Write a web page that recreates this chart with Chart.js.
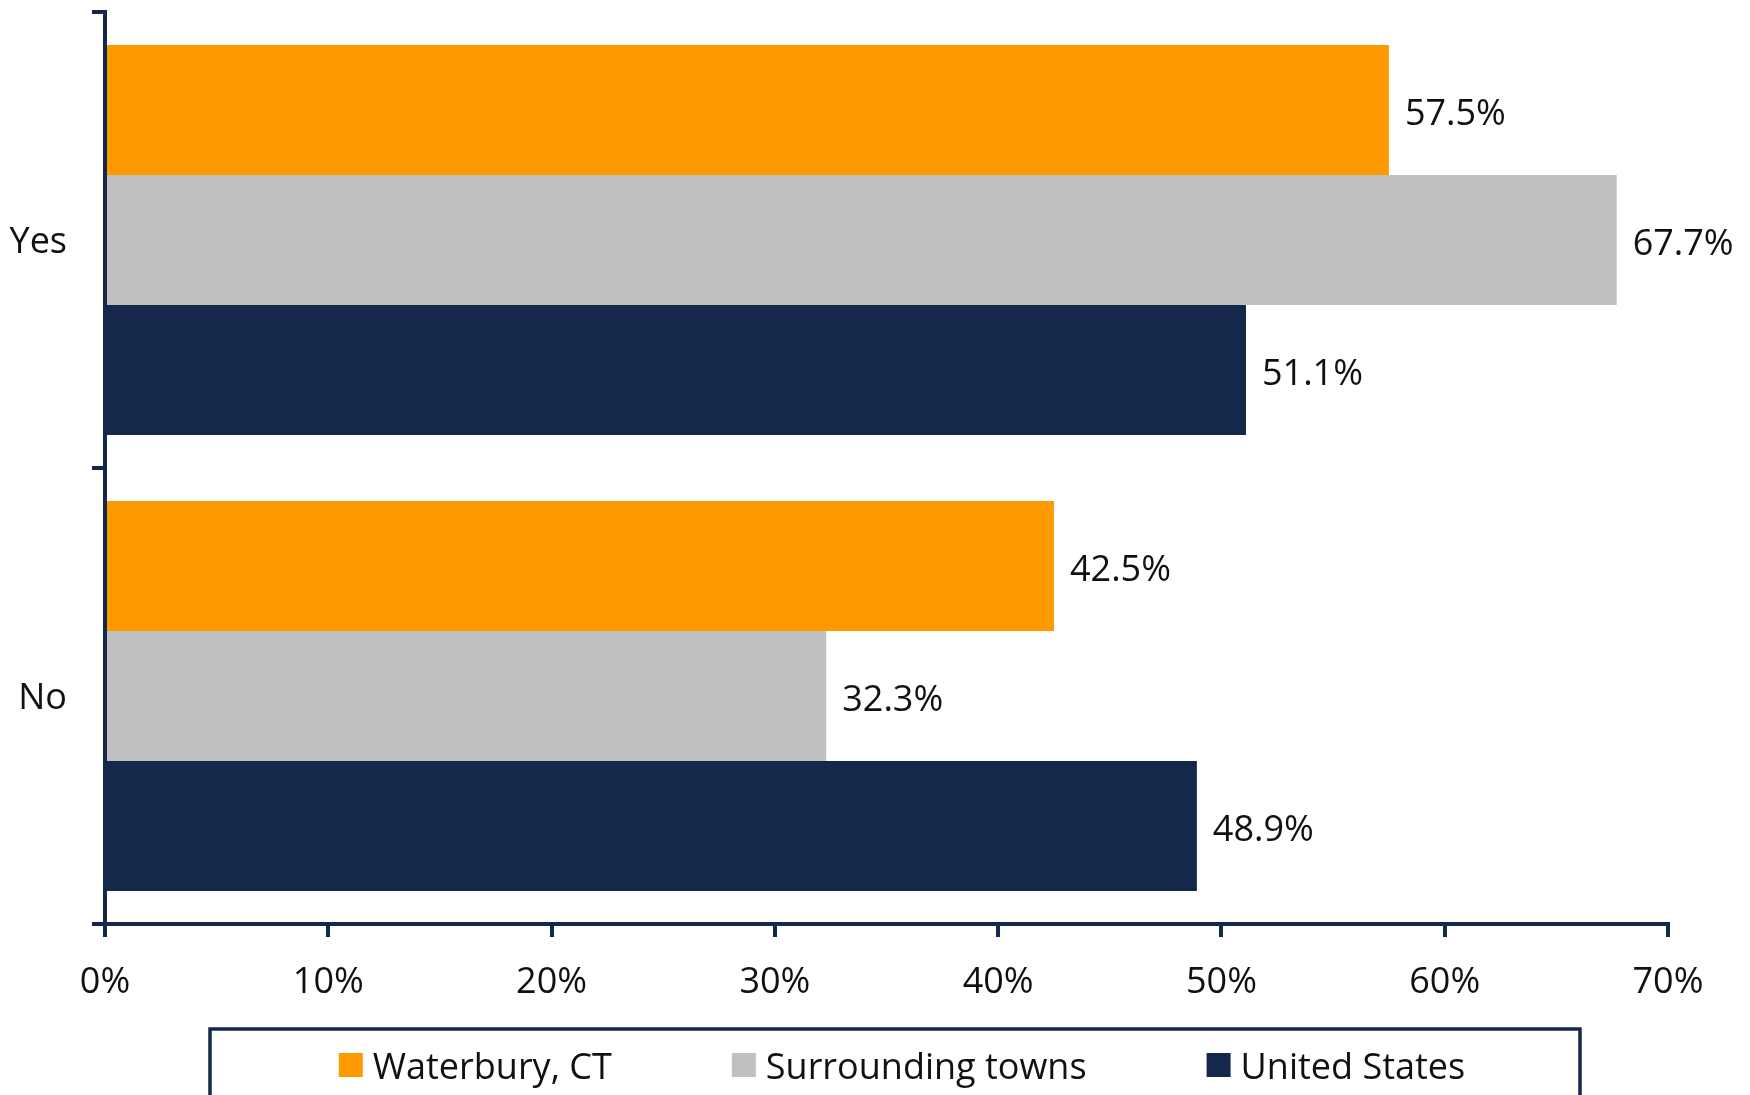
<!DOCTYPE html>
<html>
<head>
<meta charset="utf-8">
<script src="https://cdn.jsdelivr.net/npm/chart.js@4/dist/chart.umd.min.js"></script>
<style>
  html, body { margin: 0; padding: 0; background: #fff; }
  #wrap { width: 1750px; height: 1095px; }
</style>
</head>
<body>
<div id="wrap"><canvas id="myChart" width="1750" height="1095"></canvas></div>
<script>
var categories = ['Yes', 'No'];
var seriesNames = ['Waterbury, CT', 'Surrounding towns', 'United States'];
var waterbury = [57.5, 42.5];
var surrounding = [67.7, 32.3];
var unitedStates = [51.1, 48.9];
var xTicks = [0, 10, 20, 30, 40, 50, 60, 70];

var NAVY = '#13284a';
var FONT = '"Open Sans", "Noto Sans", sans-serif';

// value labels to the right of each bar
var barLabels = {
    id: 'barLabels',
    afterDatasetsDraw: function(chart) {
        var ctx = chart.ctx;
        ctx.save();
        ctx.font = '36px ' + FONT;
        ctx.fillStyle = '#111';
        ctx.textBaseline = 'middle';
        ctx.textAlign = 'left';
        chart.data.datasets.forEach(function(ds, i) {
            chart.getDatasetMeta(i).data.forEach(function(bar, j) {
                ctx.fillText(ds.data[j].toFixed(1) + '%', bar.x + 16, bar.y + 5);
            });
        });
        ctx.restore();
    }
};

// boxed legend under the axis
var boxLegend = {
    id: 'boxLegend',
    afterDraw: function(chart) {
        var ctx = chart.ctx;
        var boxL = 210, boxT = 1029, boxW = 1370;
        ctx.save();
        ctx.strokeStyle = NAVY;
        ctx.lineWidth = 3.5;
        ctx.strokeRect(boxL, boxT, boxW, 120);

        ctx.font = '36px ' + FONT;
        var sq = 24, gap = 10, spacing = 120;
        var widths = chart.data.datasets.map(function(ds) {
            return sq + gap + ctx.measureText(ds.label).width;
        });
        var total = widths.reduce(function(a, b) { return a + b; }, 0) + spacing * (widths.length - 1);
        var x = boxL + boxW / 2 - total / 2 + 7;
        var cy = 1065;
        ctx.textBaseline = 'middle';
        chart.data.datasets.forEach(function(ds, i) {
            ctx.fillStyle = ds.backgroundColor;
            ctx.fillRect(x, cy - sq / 2, sq, sq);
            ctx.fillStyle = '#111';
            ctx.fillText(ds.label, x + sq + gap, cy + 4);
            x += widths[i] + spacing;
        });
        ctx.restore();
    }
};

var ctx = document.getElementById('myChart').getContext('2d');
var myChart = new Chart(ctx, {
    type: 'bar',
    data: {
        labels: categories,
        datasets: [
            { label: seriesNames[0], data: waterbury, backgroundColor: '#ff9900' },
            { label: seriesNames[1], data: surrounding, backgroundColor: '#c0c0c0' },
            { label: seriesNames[2], data: unitedStates, backgroundColor: NAVY }
        ]
    },
    plugins: [barLabels, boxLegend],
    options: {
        indexAxis: 'y',
        responsive: false,
        animation: false,
        devicePixelRatio: 1,
        categoryPercentage: 0.855,
        barPercentage: 1,
        layout: { padding: { top: 12, right: 82, left: 0, bottom: 0 } },
        plugins: {
            legend: { display: false },
            tooltip: { enabled: false }
        },
        scales: {
            x: {
                min: 0,
                max: 70,
                afterBuildTicks: function(scale) {
                    scale.ticks = xTicks.map(function(v) { return { value: v }; });
                },
                afterFit: function(scale) { scale.height = 171; },
                border: { color: NAVY, width: 4 },
                grid: {
                    drawOnChartArea: false,
                    color: NAVY,
                    lineWidth: 4,
                    tickLength: 13,
                    tickWidth: 4,
                    tickColor: NAVY
                },
                ticks: {
                    padding: 24,
                    color: '#111',
                    font: { family: FONT, size: 36 },
                    callback: function(v) { return v + '%'; }
                }
            },
            y: {
                afterFit: function(scale) {
                    scale.width = 105;
                    // keep the label padding from pushing the plot area down
                    scale.paddingTop = 0;
                    scale.paddingBottom = 0;
                },
                border: { color: NAVY, width: 4 },
                grid: {
                    offset: true,
                    drawOnChartArea: false,
                    color: NAVY,
                    lineWidth: 4,
                    tickLength: 13,
                    tickWidth: 4,
                    tickColor: NAVY
                },
                ticks: {
                    padding: 25,
                    labelOffset: 3,
                    color: '#111',
                    font: { family: FONT, size: 36 }
                }
            }
        }
    }
});
</script>
</body>
</html>
